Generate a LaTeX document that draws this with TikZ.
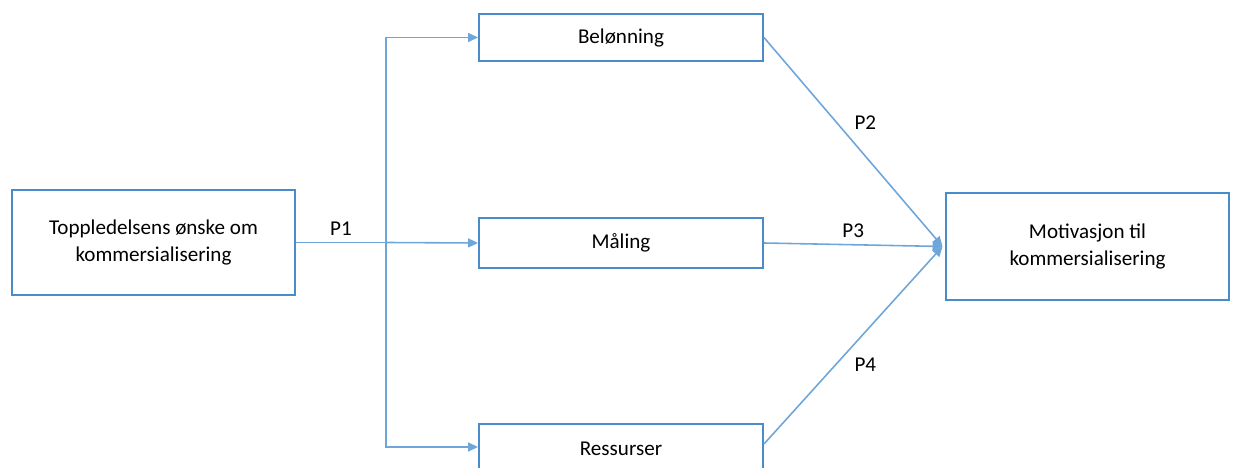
\documentclass[tikz,border=0pt]{standalone}
\usepackage{fontspec}
\setmainfont{Carlito}
\usetikzlibrary{arrows.meta}
\definecolor{lineblue}{HTML}{6FA6DA}
\definecolor{boxblue}{HTML}{4A8BCB}
\tikzset{
  box/.style={draw=boxblue,line width=1.1pt,fill=white,align=center,inner sep=0pt,font=\fontsize{12}{15}\selectfont},
  link/.style={draw=lineblue,line width=0.9pt},
  tip/.style={link,-{Triangle[length=2mm,width=1.8mm]}},
  plabel/.style={font=\fontsize{12}{15}\selectfont}
}
\begin{document}
\begin{tikzpicture}
      \useasboundingbox (0,0) rectangle (24.68,-9.36);
      \node[box,minimum width=5.66cm,minimum height=2.1cm] (1) at (3.07,-4.85) {Toppledelsens ønske om\\kommersialisering};
      \node[box,minimum width=5.68cm,minimum height=0.94cm] (2) at (12.42,-0.75) {Belønning};
      \node[box,minimum width=5.68cm,minimum height=1cm] (3) at (12.42,-4.86) {Måling};
      \node[box,minimum width=5.68cm,minimum height=1cm] (4) at (12.42,-8.98) {Ressurser};
      \node[box,minimum width=5.66cm,minimum height=2.14cm] (5) at (21.75,-4.93) {Motivasjon til\\kommersialisering};
      \coordinate (j) at (7.72,-4.85);

      \draw[link,line width=1.1pt] (1.east) -- node[plabel,above] {P1} (j);
      \draw[tip] (j) |- (2.west);
      \draw[tip] (j) -- (3.west);
      \draw[tip] (j) |- ([yshift=0.04cm]4.west);

      \draw[tip] (2.east) -- node[plabel,pos=0.47,above right] {P2} ([xshift=-0.05cm]5.west);
      \draw[tip] (3.east) -- node[plabel,above] {P3} ([xshift=-0.05cm]5.west);
      \draw[tip] ([yshift=0.1cm]4.east) -- node[plabel,pos=0.47,below right] {P4} ([xshift=-0.05cm]5.west);
    \end{tikzpicture}
\end{document}
